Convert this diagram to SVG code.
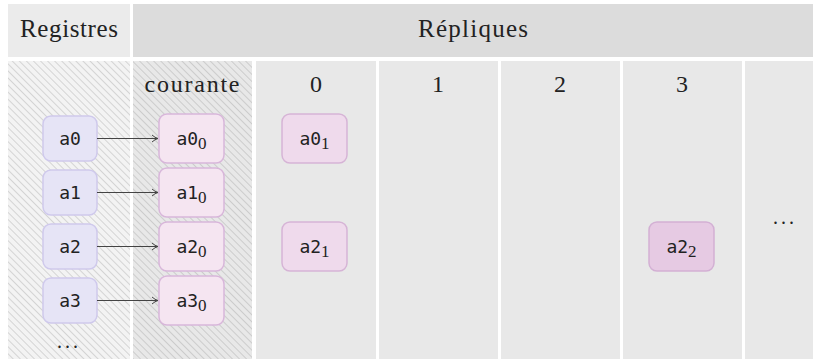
<svg xmlns="http://www.w3.org/2000/svg" width="817" height="362" viewBox="0 0 817 362">
  <defs>
    <pattern id="hatch-light" width="5" height="5" patternUnits="userSpaceOnUse" patternTransform="rotate(-45)">
      <rect width="5" height="5" fill="#f3f3f3"/>
      <line x1="0.5" y1="0" x2="0.5" y2="5" stroke="#d4d4d4" stroke-width="1"/>
    </pattern>
    <pattern id="hatch-dark" width="5" height="5" patternUnits="userSpaceOnUse" patternTransform="rotate(-45)">
      <rect width="5" height="5" fill="#e8e8e8"/>
      <line x1="0.5" y1="0" x2="0.5" y2="5" stroke="#cccccc" stroke-width="1"/>
    </pattern>
    <marker id="tip" markerWidth="8" markerHeight="10" refX="7" refY="5" orient="auto" markerUnits="userSpaceOnUse">
      <path d="M1,1.5 Q4,4.2 7,5 Q4,5.8 1,8.5" fill="none" stroke="#444" stroke-width="1"/>
    </marker>
  </defs>
  <style>
    .serif { font-family: "Liberation Serif", "DejaVu Serif", serif; fill: #222; }
    .head { font-size: 25px; }
    .col { font-size: 24px; }
    .mono { font-family: "DejaVu Sans Mono", "Liberation Mono", monospace; font-size: 18px; fill: #222; }
    .sub { font-family: "Liberation Serif", "DejaVu Serif", serif; font-size: 17px; }
    .reg { fill: #e6e4f6; stroke: #cfc9ec; stroke-width: 1.5; }
    .cur { fill: #f5e5f1; stroke: #d8b6da; stroke-width: 1.5; }
    .rep { fill: #efdaec; stroke: #d6b4d6; stroke-width: 1.5; }
    .rep2 { fill: #e6cae3; stroke: #d3b0d4; stroke-width: 1.5; }
    .cell { fill: #e8e8e8; }
    .edge { stroke: #444; stroke-width: 1; fill: none; marker-end: url(#tip); }
    .dots { font-family: "Liberation Serif", "DejaVu Serif", serif; font-size: 20px; fill: #222; letter-spacing: 3px; }
  </style>

  <rect width="817" height="362" fill="#ffffff"/>

  <!-- table grid -->
  <g id="grid">
    <rect x="8" y="4" width="122" height="53" fill="#ebebeb"/>
    <rect x="133" y="4" width="680" height="53" fill="#dcdcdc"/>
    <rect x="8" y="61" width="122" height="298" fill="url(#hatch-light)"/>
    <rect x="133" y="61" width="119" height="298" fill="url(#hatch-dark)"/>
    <rect class="cell" x="256" y="61" width="120" height="298"/>
    <rect class="cell" x="379" y="61" width="119" height="298"/>
    <rect class="cell" x="501" y="61" width="119" height="298"/>
    <rect class="cell" x="623" y="61" width="119" height="298"/>
    <rect class="cell" x="745" y="61" width="68" height="298"/>
  </g>

  <!-- headings -->
  <g id="labels">
    <text class="serif head" x="69" y="37" text-anchor="middle" textLength="98" lengthAdjust="spacing">Registres</text>
    <text class="serif head" x="473" y="37" text-anchor="middle" textLength="110" lengthAdjust="spacing">Répliques</text>
    <text class="serif col" x="192" y="92" text-anchor="middle" textLength="95" lengthAdjust="spacing">courante</text>
    <text class="serif col" x="316" y="92" text-anchor="middle">0</text>
    <text class="serif col" x="438" y="92" text-anchor="middle">1</text>
    <text class="serif col" x="560" y="92" text-anchor="middle">2</text>
    <text class="serif col" x="682" y="92" text-anchor="middle">3</text>
    <text class="dots" x="69" y="348" text-anchor="middle">...</text>
    <text class="dots" x="785" y="224" text-anchor="middle">...</text>
  </g>

  <!-- register nodes -->
  <g id="reg-a0"><rect class="reg" x="43" y="116" width="54" height="45" rx="8"/><text class="mono" x="70" y="145" text-anchor="middle">a0</text></g>
  <g id="reg-a1"><rect class="reg" x="43" y="170" width="54" height="45" rx="8"/><text class="mono" x="70" y="199" text-anchor="middle">a1</text></g>
  <g id="reg-a2"><rect class="reg" x="43" y="224" width="54" height="45" rx="8"/><text class="mono" x="70" y="253" text-anchor="middle">a2</text></g>
  <g id="reg-a3"><rect class="reg" x="43" y="278" width="54" height="45" rx="8"/><text class="mono" x="70" y="307" text-anchor="middle">a3</text></g>

  <!-- current copies -->
  <g id="cur-a0"><rect class="cur" x="159" y="114" width="65" height="49" rx="8"/><text class="mono" x="191.5" y="145" text-anchor="middle">a0<tspan class="sub" dy="4">0</tspan></text></g>
  <g id="cur-a1"><rect class="cur" x="159" y="168" width="65" height="49" rx="8"/><text class="mono" x="191.5" y="199" text-anchor="middle">a1<tspan class="sub" dy="4">0</tspan></text></g>
  <g id="cur-a2"><rect class="cur" x="159" y="222" width="65" height="49" rx="8"/><text class="mono" x="191.5" y="253" text-anchor="middle">a2<tspan class="sub" dy="4">0</tspan></text></g>
  <g id="cur-a3"><rect class="cur" x="159" y="276" width="65" height="49" rx="8"/><text class="mono" x="191.5" y="307" text-anchor="middle">a3<tspan class="sub" dy="4">0</tspan></text></g>

  <!-- replicas -->
  <g id="rep-a0-1"><rect class="rep" x="282" y="114" width="65" height="49" rx="8"/><text class="mono" x="314.5" y="145" text-anchor="middle">a0<tspan class="sub" dy="4">1</tspan></text></g>
  <g id="rep-a2-1"><rect class="rep" x="282" y="222" width="65" height="49" rx="8"/><text class="mono" x="314.5" y="253" text-anchor="middle">a2<tspan class="sub" dy="4">1</tspan></text></g>
  <g id="rep-a2-2"><rect class="rep2" x="649" y="222" width="65" height="49" rx="8"/><text class="mono" x="681.5" y="253" text-anchor="middle">a2<tspan class="sub" dy="4">2</tspan></text></g>

  <!-- connectors -->
  <g id="connectors">
    <line class="edge" x1="97" y1="138.5" x2="158" y2="138.5"/>
    <line class="edge" x1="97" y1="192.5" x2="158" y2="192.5"/>
    <line class="edge" x1="97" y1="246.5" x2="158" y2="246.5"/>
    <line class="edge" x1="97" y1="300.5" x2="158" y2="300.5"/>
  </g>
</svg>
